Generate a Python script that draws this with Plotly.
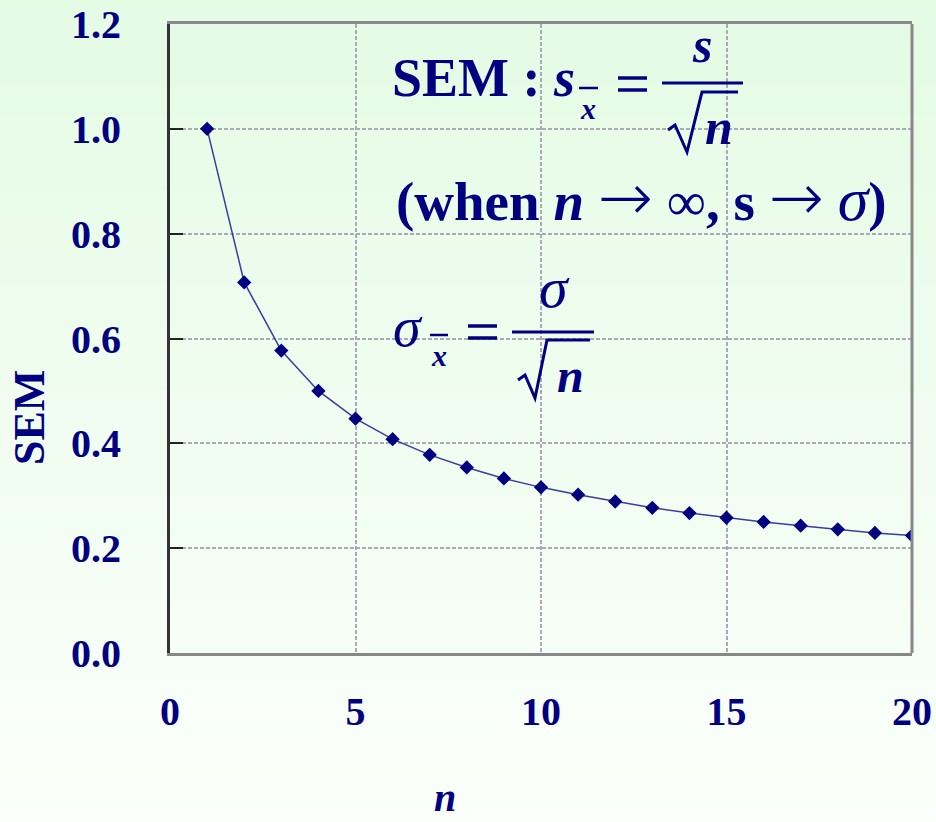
import plotly.graph_objects as go

# ---------------- data ----------------
n_values = [1, 2, 3, 4, 5, 6, 7, 8, 9, 10, 11, 12, 13, 14, 15, 16, 17, 18, 19, 20]
sem_values = [1.000, 0.707, 0.577, 0.500, 0.447, 0.408, 0.378, 0.354, 0.333, 0.316,
              0.302, 0.289, 0.277, 0.267, 0.258, 0.250, 0.243, 0.236, 0.229, 0.224]
x_ticks = [0, 5, 10, 15, 20]
y_ticks = [0.0, 0.2, 0.4, 0.6, 0.8, 1.0, 1.2]
y_tick_labels = ["0.0", "0.2", "0.4", "0.6", "0.8", "1.0", "1.2"]

# ---------------- layout geometry (page pixels) ----------------
FIG_W, FIG_H = 936, 822
L, R, T, B = 170, 912, 24, 653  # plot area in page pixels
W, H = R - L, B - T
NAVY = "#000080"
SERIF = "Liberation Serif"


def px(X):
    return (X - L) / W


def py(Y):
    return (B - Y) / H


fig = go.Figure()
fig.add_trace(go.Scatter(
    x=n_values, y=sem_values, mode="lines+markers",
    line=dict(color="#3c3c9c", width=1.5),
    marker=dict(symbol="diamond", size=11, color=NAVY),
    showlegend=False, hoverinfo="x+y",
))

shapes = []
# gradient background (top light green -> near white)
NB = 80
c0 = (228, 251, 228)
c1 = (252, 255, 252)
for i in range(NB):
    t = i / (NB - 1)
    col = tuple(round(c0[k] + (c1[k] - c0[k]) * t) for k in range(3))
    y_top = -10 + (FIG_H + 20) * i / NB
    y_bot = -10 + (FIG_H + 20) * (i + 1) / NB + 1
    shapes.append(dict(type="rect", xref="paper", yref="paper", layer="below",
                       x0=px(-10), x1=px(FIG_W + 10), y0=py(y_bot), y1=py(y_top),
                       line=dict(width=0), fillcolor="rgb(%d,%d,%d)" % col))

# right border of the plot frame
shapes.append(dict(type="line", xref="paper", yref="paper", x0=1, x1=1, y0=0, y1=1,
                   line=dict(color="#888888", width=3)))


def hline(x0, x1, y, w=3):
    shapes.append(dict(type="line", xref="paper", yref="paper",
                       x0=px(x0), x1=px(x1), y0=py(y), y1=py(y),
                       line=dict(color=NAVY, width=w)))


def radical(pts, w=3):
    d = "M " + " L ".join("%f,%f" % (px(a), py(b)) for a, b in pts)
    shapes.append(dict(type="path", xref="paper", yref="paper", path=d,
                       line=dict(color=NAVY, width=w)))


annotations = []


def text(s, X, baseline, size, xanchor="left"):
    annotations.append(dict(
        text=s, xref="paper", yref="paper", x=px(X),
        y=py(baseline + 0.216 * size + 1), xanchor=xanchor, yanchor="bottom",
        showarrow=False, font=dict(family=SERIF, size=size, color=NAVY)))


ARROW = '<span style="font-family:DejaVu Sans;font-weight:200;font-size:66px">\u2192</span>'
SIGMA = '<span style="font-size:62px"><i>\u03c3</i></span>'

# --- line 1: SEM : s_xbar = s / sqrt(n)
text("<b>SEM : </b><b><i>s</i></b>", 390, 97, 54)
hline(579, 598, 88, 2.5)
text("<b><i>x</i></b>", 588, 120, 30, "center")
hline(618, 647, 78, 3.5)
hline(618, 647, 90, 3.5)
hline(662, 743, 83, 3)
text("<b><i>s</i></b>", 702, 63, 50, "center")
radical([(668, 130), (675, 125), (687, 152), (702, 92), (738, 92)], 3)
text("<b><i>n</i></b>", 719, 145, 50, "center")

# --- line 2
text("<b>(when </b><b><i>n</i></b> " + ARROW + " \u221e<b>, s </b>" + ARROW +
     " " + SIGMA + "<b>)</b>", 394, 225, 55)

# --- line 3: sigma_xbar = sigma / sqrt(n)
text("<i>\u03c3</i>", 408, 347, 56, "center")
hline(430, 448, 335, 2.5)
text("<b><i>x</i></b>", 439, 367, 30, "center")
hline(468, 497, 326, 3.5)
hline(468, 497, 338, 3.5)
hline(512, 594, 332, 3)
text("<i>\u03c3</i>", 554, 308, 58, "center")
radical([(518, 380), (525, 375), (535, 398), (547, 340), (590, 340)], 3)
text("<b><i>n</i></b>", 570, 393, 48, "center")

# --- axis titles
annotations.append(dict(text="<b>SEM</b>", xref="paper", yref="paper",
                        x=px(29), y=py(418), xanchor="center", yanchor="middle",
                        textangle=-90, showarrow=False,
                        font=dict(family=SERIF, size=44, color=NAVY)))
annotations.append(dict(text="<b><i>n</i></b>", xref="paper", yref="paper",
                        x=px(445), y=py(821), xanchor="center", yanchor="bottom",
                        showarrow=False, borderpad=0,
                        font=dict(family=SERIF, size=40, color=NAVY)))

tickfont = dict(family=SERIF, size=40, color=NAVY, weight="bold")

fig.update_layout(
    width=FIG_W, height=FIG_H,
    margin=dict(l=L, r=FIG_W - R, t=T, b=FIG_H - B, autoexpand=False),
    paper_bgcolor="#f2fef2", plot_bgcolor="rgba(0,0,0,0)",
    shapes=shapes, annotations=annotations,
    xaxis=dict(range=[0, 20], tickmode="array", tickvals=x_ticks,
               showgrid=True, gridcolor="#a9a9ba", gridwidth=1.5, griddash="4px,2px",
               showline=True, linecolor="#888888", linewidth=3, mirror=True,
               ticks="", tickfont=tickfont, ticklabelstandoff=21, zeroline=False,
               ticklabeloverflow="allow", fixedrange=True),
    yaxis=dict(range=[0, 1.2], tickmode="array", tickvals=y_ticks, ticktext=y_tick_labels,
               showgrid=True, gridcolor="#a9a9ba", gridwidth=1.5, griddash="4px,2px",
               showline=True, linecolor="#333333", linewidth=3,
               ticks="inside", ticklen=13, tickcolor="#222222", tickwidth=1.5,
               tickfont=tickfont, ticklabelstandoff=38, zeroline=False,
               ticklabeloverflow="allow", fixedrange=True),
    showlegend=False,
)

fig.write_html(
    "out.html",
    config={"displayModeBar": False},
    post_script="document.body.style.margin='0';document.body.style.overflow='hidden';",
)
